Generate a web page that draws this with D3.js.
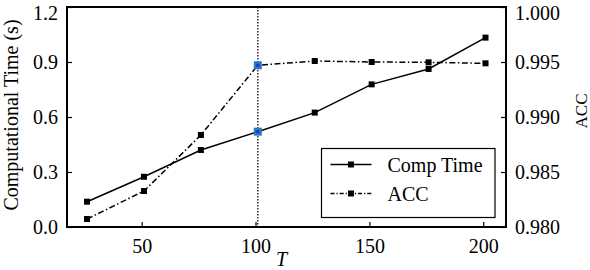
<!DOCTYPE html>
<html>
<head>
<meta charset="utf-8">
<script src="https://cdn.jsdelivr.net/npm/d3@7"></script>
<style>
  body { margin: 0; background: #fff; }
  svg text { font-family: "Liberation Serif", "Times New Roman", serif; fill: #000; }
</style>
</head>
<body>
<svg id="chart" width="590" height="270"></svg>
<script>
/* values */
const tValues = [26, 51, 76, 101, 126, 151, 176, 201];
const compTime = [0.138, 0.274, 0.42, 0.52, 0.624, 0.778, 0.862, 1.033];
const acc = [0.98073, 0.98327, 0.98836, 0.9947, 0.99509, 0.995, 0.99497, 0.99488];
const xTicks = [50, 100, 150, 200];
const leftTicks = [0, 0.3, 0.6, 0.9, 1.2];
const rightTicks = [0.98, 0.985, 0.99, 0.995, 1.0];
const highlightT = 101;

let margin = { top: 7, right: 84, bottom: 43, left: 67 };
let width = 590 - margin.left - margin.right;
let height = 270 - margin.top - margin.bottom;

let x = d3.scaleLinear().domain([17.2, 210]).range([0, width]);
let yL = d3.scaleLinear().domain([0, 1.2]).range([height, 0]);
let yR = d3.scaleLinear().domain([0.98, 1.0]).range([height, 0]);

let svg = d3.select('#chart');
let chart = svg.append('g')
    .attr('transform', `translate(${margin.left}, ${margin.top})`);

/* axes with inward ticks */
let xAxis = d3.axisBottom(x).tickValues(xTicks).tickSize(-5).tickPadding(12).tickFormat(d3.format('d'));
let yAxisL = d3.axisLeft(yL).tickValues(leftTicks).tickSize(-5).tickPadding(9).tickFormat(d3.format('.1f'));
let yAxisR = d3.axisRight(yR).tickValues(rightTicks).tickSize(-5).tickPadding(9).tickFormat(d3.format('.3f'));

function styleAxis(g) {
    g.select('.domain').remove();
    g.attr('font-family', null).attr('font-size', null);
    g.selectAll('.tick line').attr('stroke', '#000').attr('stroke-width', 1.2);
    g.selectAll('.tick text').style('font-size', '20px');
}
/* the top labels sit a little lower so they stay inside the picture */
function nudgeTop(g, top) {
    g.selectAll('.tick').filter(d => d === top).select('text').attr('dy', '0.62em');
}

chart.append('g').attr('transform', `translate(0, ${height})`).call(xAxis).call(styleAxis);
chart.append('g').call(yAxisL).call(styleAxis).call(nudgeTop, 1.2);
chart.append('g').attr('transform', `translate(${width}, 0)`).call(yAxisR).call(styleAxis).call(nudgeTop, 1.0);

/* frame */
chart.append('rect')
    .attr('width', width).attr('height', height)
    .attr('fill', 'none').attr('stroke', '#000').attr('stroke-width', 2);

/* dotted marker line */
chart.append('line')
    .attr('x1', x(highlightT)).attr('x2', x(highlightT))
    .attr('y1', 0).attr('y2', height)
    .attr('stroke', '#000').attr('stroke-width', 1.2)
    .attr('stroke-dasharray', '1.5,1.5');

let compData = tValues.map((t, i) => ({ t, v: compTime[i] }));
let accData = tValues.map((t, i) => ({ t, v: acc[i] }));

let lineL = d3.line().x(d => x(d.t)).y(d => yL(d.v));
let lineR = d3.line().x(d => x(d.t)).y(d => yR(d.v));

chart.append('path').datum(compData)
    .attr('d', lineL).attr('fill', 'none').attr('stroke', '#000').attr('stroke-width', 1.5);
chart.append('path').datum(accData)
    .attr('d', lineR).attr('fill', 'none').attr('stroke', '#000').attr('stroke-width', 1.5)
    .attr('stroke-dasharray', '6,2.5,1.5,2.5');

function markers(data, yScale) {
    chart.append('g').selectAll('rect')
        .data(data)
        .join('rect')
        .attr('x', d => x(d.t) - (d.t === highlightT ? 4 : 3))
        .attr('y', d => yScale(d.v) - (d.t === highlightT ? 4 : 3))
        .attr('width', d => d.t === highlightT ? 8 : 6)
        .attr('height', d => d.t === highlightT ? 8 : 6)
        .attr('fill', d => d.t === highlightT ? '#2b78c2' : '#000');
    chart.append('g').selectAll('rect')
        .data(data.filter(d => d.t === highlightT))
        .join('rect')
        .attr('x', d => x(d.t) - 1.5)
        .attr('y', d => yScale(d.v) - 1.5)
        .attr('width', 3).attr('height', 3)
        .attr('fill', '#1a2fd6');
}
markers(compData, yL);
markers(accData, yR);

/* axis titles */
svg.append('text')
    .attr('transform', `translate(18, 115) rotate(-90)`)
    .attr('text-anchor', 'middle')
    .style('font-size', '20px')
    .text('Computational Time (s)');
svg.append('text')
    .attr('transform', `translate(587, 111) rotate(-90)`)
    .attr('text-anchor', 'middle')
    .style('font-size', '17px')
    .text('ACC');
svg.append('text')
    .attr('x', margin.left + x(100) + 26)
    .attr('y', 266)
    .attr('text-anchor', 'middle')
    .style('font-size', '20px')
    .style('font-style', 'italic')
    .text('T');

/* legend */
let legend = chart.append('g').attr('transform', `translate(${321.5 - margin.left}, ${148.5 - margin.top})`);
legend.append('rect')
    .attr('width', 173.5).attr('height', 69)
    .attr('fill', '#fff').attr('stroke', '#000').attr('stroke-width', 1.2);
let entries = [
    { name: 'Comp Time', dash: null },
    { name: 'ACC', dash: '4,2,1.2,2' }
];
entries.forEach((e, i) => {
    let yy = 16 + i * 29;
    legend.append('line')
        .attr('x1', 9).attr('x2', 50).attr('y1', yy).attr('y2', yy)
        .attr('stroke', '#000').attr('stroke-width', 1.5)
        .attr('stroke-dasharray', e.dash);
    legend.append('rect')
        .attr('x', 26.5).attr('y', yy - 3).attr('width', 6).attr('height', 6)
        .attr('fill', '#000');
    legend.append('text')
        .attr('x', 66).attr('y', yy)
        .attr('dominant-baseline', 'central')
        .style('font-size', '20px')
        .text(e.name);
});
</script>
</body>
</html>
